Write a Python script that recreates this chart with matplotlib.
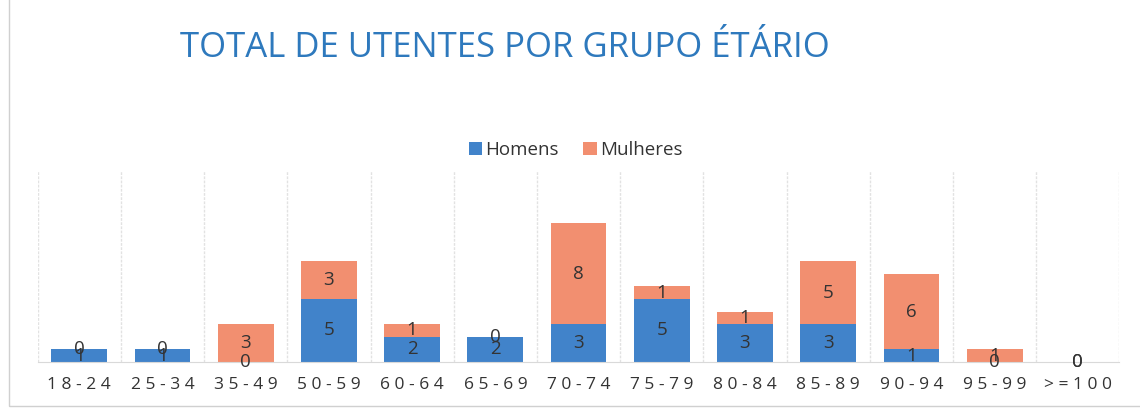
import matplotlib.pyplot as plt
import numpy as np
from matplotlib.patches import Rectangle

groups = ['18-24', '25-34', '35-49', '50-59', '60-64', '65-69', '70-74',
          '75-79', '80-84', '85-89', '90-94', '95-99', '>=100']
homens = [1, 1, 0, 5, 2, 2, 3, 5, 3, 3, 1, 0, 0]
mulheres = [0, 0, 3, 3, 1, 0, 8, 1, 1, 5, 6, 1, 0]

blue = '#4183CA'
orange = '#F28F70'
txt = '#333333'

plt.rcParams['font.family'] = ['Open Sans', 'DejaVu Sans']

fig = plt.figure(figsize=(11.4, 4.16), dpi=100)
ax = fig.add_axes([0.033, 0.13, 0.949, 0.46])

x = np.arange(len(groups))
ax.bar(x, homens, width=0.67, color=blue, label='Homens')
ax.bar(x, mulheres, width=0.67, bottom=homens, color=orange, label='Mulheres')

for i in range(len(groups)):
    ax.text(x[i], homens[i] / 2, str(homens[i]), ha='center', va='center',
            fontsize=13.5, color=txt)
    ax.text(x[i], homens[i] + mulheres[i] / 2, str(mulheres[i]), ha='center',
            va='center', fontsize=13.5, color=txt)

ax.set_xlim(-0.5, len(groups) - 0.5)
ax.set_ylim(0, 15.2)
ax.set_yticks([])
ax.set_xticks(x)
ax.set_xticklabels([' '.join(g) for g in groups], fontsize=12.5, color=txt)
ax.tick_params(axis='x', length=0, pad=11)
for s in ['top', 'right', 'left']:
    ax.spines[s].set_visible(False)
ax.spines['bottom'].set_color('#d9d9d9')

# faint category separators
for b in np.arange(-0.5, len(groups) - 0.4, 1):
    ax.axvline(b, color='#e2e2e2', lw=1, ls=(0, (2, 1)), zorder=0)

fig.text(0.443, 0.885, 'TOTAL DE UTENTES POR GRUPO ÉTÁRIO', ha='center', va='center',
         fontsize=25, color='#2E79BD')
fig.legend(loc='center', bbox_to_anchor=(0.505, 0.64), ncol=2, frameon=False,
           fontsize=13.5, handlelength=0.7, handleheight=0.7, handletextpad=0.2,
           columnspacing=1.3, labelcolor=txt)

fig.patches.append(Rectangle((0.008, 0.025), 1.1, 1.1, transform=fig.transFigure,
                             fill=False, edgecolor='#d0d0d0', lw=1))

fig.savefig('out.png', dpi=100)
